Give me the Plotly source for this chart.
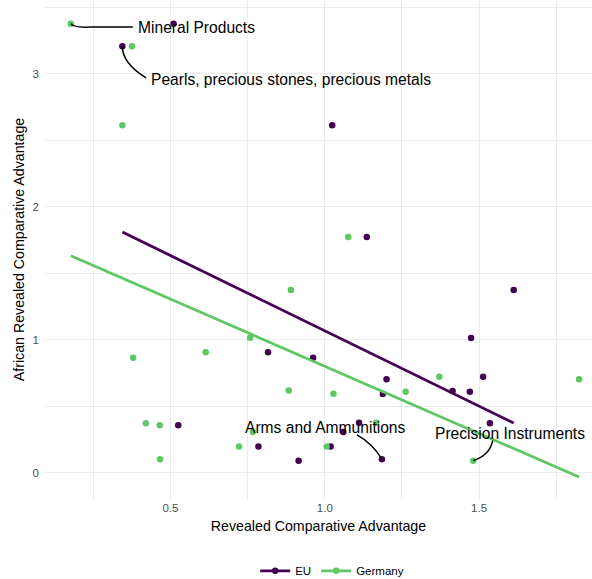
import numpy as np
import plotly.graph_objects as go

# ---------------- data ----------------
sections = ["Mineral Products", "Pearls, precious stones, precious metals", "S3", "S4", "S5", "S6",
            "S7", "S8", "S9", "S10", "S11", "S12", "S13", "S14", "S15", "S16", "S17", "S18",
            "S19", "Arms and Ammunitions", "Precision Instruments"]

# African RCA (y) per section, and EU / Germany RCA (x)
africa_rca_eu = [3.376, 3.206, 2.612, 1.772, 1.374, 1.013, 0.905, 0.865, 0.722, 0.702,
                 0.614, 0.609, 0.592, 0.376, 0.371, 0.356, 0.306, 0.196, 0.196, 0.101, 0.090]
eu_rca = [0.510, 0.344, 1.024, 1.136, 1.612, 1.474, 0.816, 0.962, 1.513, 1.200,
          1.414, 1.470, 1.188, 1.111, 1.535, 0.525, 1.060, 0.785, 1.019, 1.185, 0.915]

africa_rca_de = [3.376, 3.206, 2.612, 1.772, 1.374, 1.015, 0.905, 0.865, 0.722, 0.702,
                 0.617, 0.609, 0.594, 0.376, 0.371, 0.356, 0.306, 0.196, 0.196, 0.101, 0.090]
de_rca = [0.177, 0.375, 0.344, 1.076, 0.890, 0.758, 0.614, 0.379, 1.371, 1.824,
          0.883, 1.262, 1.028, 1.166, 0.420, 0.465, 0.767, 0.722, 1.006, 0.466, 1.481]

series_names = ["EU", "Germany"]
x_ticks = [0.5, 1.0, 1.5]
x_tick_labels = ["0.5", "1.0", "1.5"]
y_ticks = [0, 1, 2, 3]
y_tick_labels = ["0", "1", "2", "3"]

# ---------------- style ----------------
PURPLE = "#440154"
GREEN = "#5DC863"
FONT = "Liberation Sans, Arial, sans-serif"

fig = go.Figure()

series = [
    ("EU", eu_rca, africa_rca_eu, PURPLE),
    ("Germany", de_rca, africa_rca_de, GREEN),
]

for name, xs, ys, col in series:
    xs_a = np.array(xs)
    ys_a = np.array(ys)
    fig.add_trace(go.Scatter(x=xs_a, y=ys_a, mode="markers", name=name,
                             marker=dict(color=col, size=6.5), showlegend=False,
                             hoverinfo="skip"))
    b, a = np.polyfit(xs_a, ys_a, 1)
    xl = np.array([xs_a.min(), xs_a.max()])
    fig.add_trace(go.Scatter(x=xl, y=a + b * xl, mode="lines", name=name,
                             line=dict(color=col, width=2.8), showlegend=False,
                             hoverinfo="skip"))

for name, xs, ys, col in series:
    fig.add_trace(go.Scatter(x=[None], y=[None], mode="lines+markers", name=name,
                             line=dict(color=col, width=2.8),
                             marker=dict(color=col, size=6.5)))

# ---------------- labels (repel-style) ----------------
labels = [
    (0, "Germany", 0.388, 3.344),
    (1, "EU", 0.430, 2.959),
    (19, "EU", 0.735, 0.336),
    (20, "Germany", 1.351, 0.291),
]

annotations = []
for idx, which, tx, ty in labels:
    annotations.append(dict(x=tx, y=ty, xref="x", yref="y", text=sections[idx],
                            showarrow=False, xanchor="left", yanchor="middle",
                            font=dict(family=FONT, size=15.6, color="black")))

# connector curves
shapes = []
p0x, p0y = de_rca[0], africa_rca_de[0]
shapes.append(dict(type="path", xref="x", yref="y",
                   path=f"M{p0x},{p0y} Q{p0x+0.010},{p0y-0.032} {p0x+0.062},{p0y-0.025} L{p0x+0.201},{p0y-0.025}",
                   line=dict(color="black", width=1.5)))
p1x, p1y = eu_rca[1], africa_rca_eu[1]
shapes.append(dict(type="path", xref="x", yref="y",
                   path=f"M{p1x},{p1y} Q{p1x-0.001},{p1y-0.126} {p1x+0.077},{p1y-0.238}",
                   line=dict(color="black", width=1.5)))
p2x, p2y = eu_rca[19], africa_rca_eu[19]
shapes.append(dict(type="path", xref="x", yref="y",
                   path=f"M{p2x-0.081},{p2y+0.183} Q{p2x-0.032},{p2y+0.122} {p2x},{p2y}",
                   line=dict(color="black", width=1.5)))
p3x, p3y = de_rca[20], africa_rca_de[20]
shapes.append(dict(type="path", xref="x", yref="y",
                   path=f"M{p3x+0.063},{p3y+0.151} Q{p3x+0.054},{p3y+0.043} {p3x},{p3y}",
                   line=dict(color="black", width=1.5)))

grid_major = "#ebebeb"
fig.update_layout(
    width=592, height=579,
    margin=dict(l=45, r=0, t=0, b=80, autoexpand=False),
    plot_bgcolor="white", paper_bgcolor="white",
    font=dict(family=FONT, color="black"),
    annotations=annotations,
    shapes=shapes,
    legend=dict(orientation="h", x=0.525, xanchor="center", y=-0.144, yanchor="middle",
                font=dict(family=FONT, size=11.5, color="black"),
                itemwidth=30, tracegroupgap=0),
    xaxis=dict(range=[0.0933, 1.8658], tickvals=x_ticks, ticktext=x_tick_labels,
               showgrid=True, gridcolor=grid_major, gridwidth=1.3,
               minor=dict(dtick=0.25, tick0=0.25, showgrid=True, gridcolor=grid_major, gridwidth=0.8),
               zeroline=False, showline=False, ticks="",
               tickfont=dict(family=FONT, size=11.5, color="#4d4d4d"),
               title=dict(text="Revealed Comparative Advantage", standoff=8,
                          font=dict(family=FONT, size=14.2, color="black")),
               automargin=False),
    yaxis=dict(range=[-0.198, 3.554], tickvals=y_ticks, ticktext=y_tick_labels,
               showgrid=True, gridcolor=grid_major, gridwidth=1.3,
               minor=dict(dtick=0.5, tick0=0.5, showgrid=True, gridcolor=grid_major, gridwidth=0.8),
               zeroline=False, showline=False, ticks="",
               ticklabelstandoff=5,
               tickfont=dict(family=FONT, size=11.5, color="#4d4d4d"),
               title=dict(text="African Revealed Comparative Advantage", standoff=4,
                          font=dict(family=FONT, size=14.2, color="black")),
               automargin=False),
)

fig.write_html("out.html", config={"displayModeBar": False},
               post_script="document.body.style.margin='0px';")
